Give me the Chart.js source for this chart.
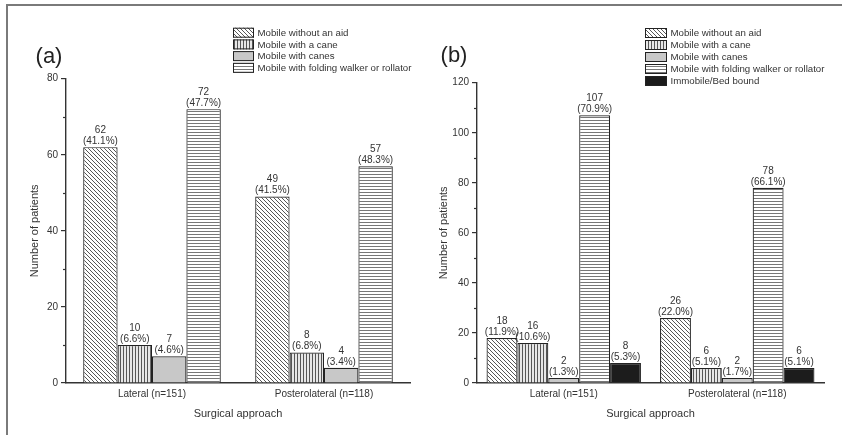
<!DOCTYPE html>
<html>
<head>
<meta charset="utf-8">
<script src="https://cdn.jsdelivr.net/npm/chart.js@4/dist/chart.umd.min.js"></script>
<style>
  html, body { margin: 0; padding: 0; background: #fff; }
  body { width: 842px; height: 435px; position: relative; overflow: hidden; }
  #frame { position: absolute; left: 6px; top: 4px; right: 0; bottom: 0;
           border-top: 2px solid #7a7a7a; border-left: 2px solid #7a7a7a; }
  canvas { position: absolute; top: 0; }
</style>
</head>
<body>
<div id="frame"></div>
<canvas id="chart-a" width="420" height="435" style="left:0"></canvas>
<canvas id="chart-b" width="422" height="435" style="left:420px"></canvas>
<script>
const categories = ['Lateral (n=151)', 'Posterolateral (n=118)'];
const seriesNames = ['Mobile without an aid', 'Mobile with a cane', 'Mobile with canes',
                     'Mobile with folding walker or rollator', 'Immobile/Bed bound'];

// panel (a)
const aNoAid  = [62, 49];
const aCane   = [10, 8];
const aCanes  = [7, 4];
const aWalker = [72, 57];
const aNoAidPct  = ['41.1', '41.5'];
const aCanePct   = ['6.6', '6.8'];
const aCanesPct  = ['4.6', '3.4'];
const aWalkerPct = ['47.7', '48.3'];
const aMax = 80;

// panel (b)
const bNoAid  = [18, 26];
const bCane   = [16, 6];
const bCanes  = [2, 2];
const bWalker = [107, 78];
const bBed    = [8, 6];
const bNoAidPct  = ['11.9', '22.0'];
const bCanePct   = ['10.6', '5.1'];
const bCanesPct  = ['1.3', '1.7'];
const bWalkerPct = ['70.9', '66.1'];
const bBedPct    = ['5.3', '5.1'];
const bMax = 120;

const tickStep = 20;
const FONT = '"Liberation Sans", Arial, sans-serif';
const INK = '#333333';

Chart.defaults.font.family = FONT;
Chart.defaults.font.size = 10;
Chart.defaults.color = INK;

//fill patterns
function makePattern(kind) {
    const c = document.createElement('canvas');
    const g = c.getContext('2d');
    if (kind === 'diag') {
        c.width = 4; c.height = 4;
        g.fillStyle = '#fff'; g.fillRect(0, 0, 4, 4);
        g.strokeStyle = '#444'; g.lineWidth = 0.9;
        [-4, 0, 4].forEach(k => { g.beginPath(); g.moveTo(k, 0); g.lineTo(k + 4, 4); g.stroke(); });
    } else if (kind === 'vert') {
        c.width = 3; c.height = 3;
        g.fillStyle = '#e6e6e6'; g.fillRect(0, 0, 3, 3);
        g.fillStyle = '#555'; g.fillRect(0, 0, 1, 3);
    } else if (kind === 'horiz') {
        c.width = 3; c.height = 3;
        g.fillStyle = '#fff'; g.fillRect(0, 0, 3, 3);
        g.fillStyle = '#777'; g.fillRect(0, 0, 3, 1);
    }
    return g.createPattern(c, 'repeat');
}

const fills = [makePattern('diag'), makePattern('vert'), '#c8c8c8', makePattern('horiz'), '#1c1c1c'];

//value + percent labels above bars
const barLabels = {
    id: 'barLabels',
    afterDatasetsDraw: (chart) => {
        const {ctx} = chart;
        ctx.save();
        ctx.font = '10px ' + FONT;
        ctx.fillStyle = INK;
        ctx.textAlign = 'center';
        ctx.textBaseline = 'middle';
        chart.data.datasets.forEach((ds, i) => {
            chart.getDatasetMeta(i).data.forEach((bar, j) => {
                ctx.fillText(ds.data[j], bar.x, bar.y - 17);
                ctx.fillText('(' + ds.pct[j] + '%)', bar.x, bar.y - 6);
            });
        });
        ctx.restore();
    }
}

//minor ticks on y axis, panel letter, legend
const panelDecor = {
    id: 'panelDecor',
    afterDraw: (chart, args, opts) => {
        const {ctx, chartArea: {left}, scales: {y}} = chart;
        ctx.save();

        ctx.strokeStyle = INK;
        ctx.lineWidth = 1.2;
        for (let v = tickStep / 2; v < y.max; v += tickStep) {
            const py = Math.round(y.getPixelForValue(v)) + 0.5;
            ctx.beginPath();
            ctx.moveTo(left - 3, py);
            ctx.lineTo(left, py);
            ctx.stroke();
        }

        ctx.fillStyle = '#222';
        ctx.font = '22px ' + FONT;
        ctx.textAlign = 'center';
        ctx.textBaseline = 'middle';
        ctx.fillText(opts.panel, opts.panelX, opts.panelY);

        ctx.font = '9.7px ' + FONT;
        ctx.textAlign = 'left';
        chart.data.datasets.forEach((ds, i) => {
            const cy = opts.legendY + i * opts.legendStep;
            ctx.fillStyle = ds.backgroundColor;
            ctx.fillRect(opts.legendX, cy - 5, opts.swatchW, 10);
            ctx.strokeStyle = '#222';
            ctx.lineWidth = 1;
            ctx.strokeRect(opts.legendX + 0.5, cy - 4.5, opts.swatchW - 1, 9);
            ctx.fillStyle = INK;
            ctx.fillText(ds.label, opts.legendX + opts.swatchW + 3.5, cy + 0.5);
        });

        ctx.restore();
    }
}

function buildChart(id, series, pcts, yMax, catPct, pad, yWidth, decor) {
    return new Chart(document.getElementById(id), {
        type: 'bar',
        data: {
            labels: categories,
            datasets: series.map((d, i) => ({
                label: seriesNames[i],
                data: d,
                pct: pcts[i],
                backgroundColor: fills[i],
                borderColor: '#222',
                borderWidth: 1.2,
                categoryPercentage: catPct,
                barPercentage: 1.0
            }))
        },
        options: {
            responsive: false,
            animation: false,
            layout: { padding: pad },
            scales: {
                x: {
                    grid: { display: false, drawTicks: false },
                    border: { color: INK, width: 1.4 },
                    ticks: { padding: 5, color: INK, font: { size: 10 } },
                    title: { display: true, text: 'Surgical approach', color: INK, font: { size: 11 } },
                    afterFit: (s) => { s.height = 42; }
                },
                y: {
                    min: 0,
                    max: yMax,
                    grid: { drawOnChartArea: false, tickLength: 5, color: INK, lineWidth: 1.2 },
                    border: { color: INK, width: 1.4 },
                    ticks: { stepSize: tickStep, padding: 3, color: INK, font: { size: 10 } },
                    title: { display: true, text: 'Number of patients', color: INK, font: { size: 11 } },
                    afterFit: (s) => { s.width = yWidth; }
                }
            },
            plugins: {
                legend: { display: false },
                tooltip: { enabled: false },
                panelDecor: decor
            }
        },
        plugins: [barLabels, panelDecor]
    });
}

buildChart('chart-a',
    [aNoAid, aCane, aCanes, aWalker],
    [aNoAidPct, aCanePct, aCanesPct, aWalkerPct],
    aMax, 0.8,
    { top: 78.7, left: 24, right: 10, bottom: 10 }, 42,
    { panel: '(a)', panelX: 49, panelY: 57, legendX: 233, legendY: 32.7, legendStep: 11.7, swatchW: 21 });

buildChart('chart-b',
    [bNoAid, bCane, bCanes, bWalker, bBed],
    [bNoAidPct, bCanePct, bCanesPct, bWalkerPct, bBedPct],
    bMax, 0.89,
    { top: 82.7, left: 13, right: 18, bottom: 10 }, 44,
    { panel: '(b)', panelX: 34, panelY: 56, legendX: 225, legendY: 33, legendStep: 12, swatchW: 22 });
</script>
</body>
</html>
